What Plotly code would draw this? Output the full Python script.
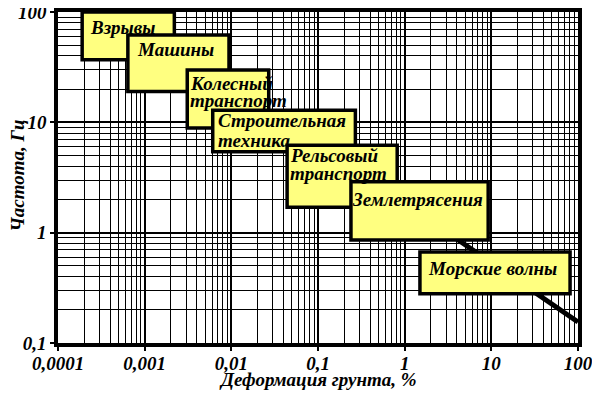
import numpy as np
import plotly.graph_objects as go

# ---- data ----
labels = [["Взрывы"], ["Машины"], ["Колесный", "транспорт"], ["Строительная", "техника"],
          ["Рельсовый", "транспорт"], ["Землетрясения"], ["Морские волны"]]
strain_min = [0.00019, 0.00064, 0.0031, 0.0061, 0.044, 0.24, 1.5]
strain_max = [0.0022, 0.0094, 0.027, 0.27, 0.82, 9.2, 81]
freq_min = [37, 19, 8.9, 5.4, 1.7, 0.86, 0.28]
freq_max = [100, 62, 29.8, 12.9, 6.2, 2.9, 0.668]

sea_line_strain = [3.8, 100]
sea_line_freq = [0.9, 0.155]

x_tickvals = [0.0001, 0.001, 0.01, 0.1, 1, 10, 100]
x_ticktext = ["0,0001", "0,001", "0,01", "0,1", "1", "10", "100"]
y_tickvals = [0.1, 1, 10, 100]
y_ticktext = ["0,1", "1", "10", "100"]
x_title = "Деформация грунта, %"
y_title = "Частота, Гц"

# ---- style ----
FONT = "Liberation Serif"
BOX_FILL = "#ffff80"
text_dx = [7, 8, 2, 4, 2, 0, 7]
text_dy = [[15], [15], [13, 30], [10, 30], [10, 28], [18], [16]]


def bi(s):
    return "<b><i>" + s + "</i></b>"


x_minor = [d * k for d in x_tickvals[:-1] for k in range(2, 10)]
y_minor = [d * k for d in y_tickvals[:-1] for k in range(2, 10)]

fig = go.Figure()
fig.add_trace(go.Scatter(x=sea_line_strain, y=sea_line_freq, mode="lines",
                         line=dict(color="black", width=5), showlegend=False,
                         hoverinfo="skip"))

for i, lines in enumerate(labels):
    fig.add_shape(type="rect", xref="x", yref="y",
                  x0=strain_min[i], x1=strain_max[i], y0=freq_min[i], y1=freq_max[i],
                  fillcolor=BOX_FILL, line=dict(color="black", width=3.5), layer="above")
    for j, ln in enumerate(lines):
        fig.add_annotation(x=np.log10(strain_min[i]), y=np.log10(freq_max[i]), xref="x", yref="y",
                           text=bi(ln), showarrow=False, xanchor="left", yanchor="middle",
                           xshift=text_dx[i], yshift=-text_dy[i][j], borderpad=0,
                           font=dict(family=FONT, size=19, color="black"))

tickfont = dict(family=FONT, size=19, color="black")
titlefont = dict(family=FONT, size=19, color="black")

fig.add_annotation(x=0.5, y=0, xref="paper", yref="paper", text=bi(x_title), showarrow=False,
                   xanchor="center", yanchor="middle", yshift=-36, font=titlefont)
fig.add_annotation(x=0, y=0.5, xref="paper", yref="paper", text=bi(y_title), showarrow=False,
                   xanchor="center", yanchor="middle", xshift=-41, yshift=2, textangle=-90,
                   font=titlefont)

common = dict(type="log", tickmode="array", tickfont=tickfont, ticks="outside", ticklen=4,
              automargin=False, tickcolor="black", tickwidth=1.5, showline=True,
              linecolor="black", linewidth=3.5, mirror=True, showgrid=True,
              gridcolor="black", gridwidth=1.6, zeroline=False, ticklabeloverflow="allow")
fig.update_xaxes(range=[-4, 2], tickvals=x_tickvals, ticktext=[bi(t) for t in x_ticktext],
                 ticklabelstandoff=-4,
                 minor=dict(tickmode="array", tickvals=x_minor, showgrid=True,
                            gridcolor="black", gridwidth=1.2, ticks=""), **common)
fig.update_yaxes(range=[-1, 2], tickvals=y_tickvals, ticktext=[bi(t) for t in y_ticktext],
                 minor=dict(tickmode="array", tickvals=y_minor, showgrid=True,
                            gridcolor="black", gridwidth=1.2, ticks=""), **common)

fig.update_layout(width=592, height=386, margin=dict(l=50, r=22, t=4, b=51),
                  paper_bgcolor="white", plot_bgcolor="white", showlegend=False)

fig.write_html("out.html")
